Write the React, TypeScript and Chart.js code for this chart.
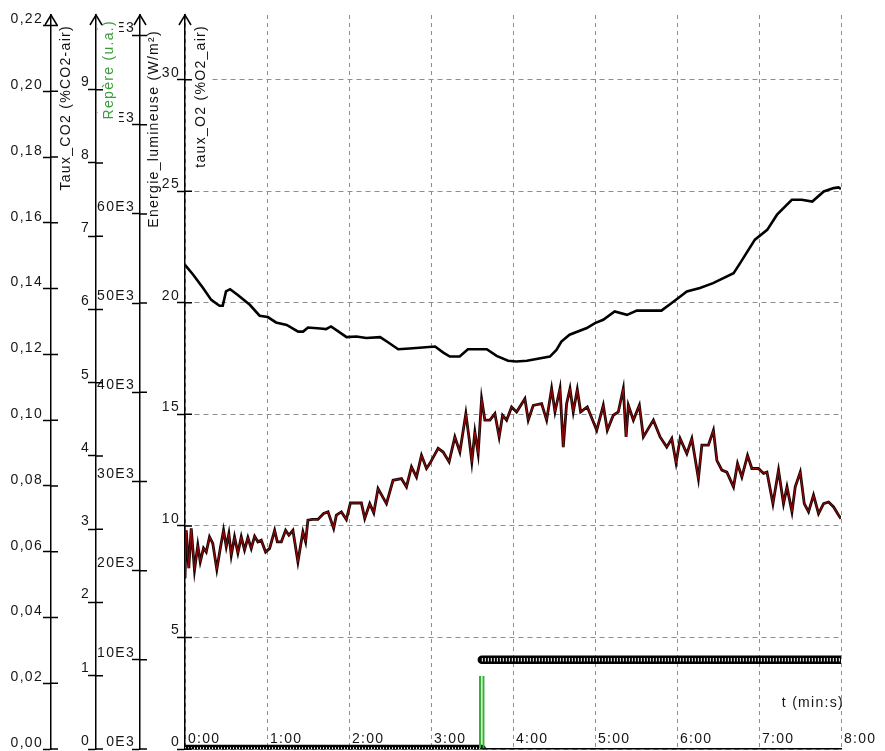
import React, { useEffect, useRef } from 'react';
import { Chart, registerables } from 'chart.js';

Chart.register(...registerables);

// ---- data (time in minutes) ----
const o2Times = [0, 0.10, 0.22, 0.32, 0.42, 0.46, 0.50, 0.55, 0.64, 0.79, 0.91, 1.01, 1.11, 1.24, 1.38, 1.44, 1.50, 1.65, 1.72, 1.78, 1.86, 1.97, 2.09, 2.21, 2.38, 2.48, 2.60, 2.74, 3.05, 3.15, 3.23, 3.35, 3.45, 3.68, 3.80, 3.94, 4.04, 4.17, 4.45, 4.53, 4.59, 4.69, 4.90, 5.00, 5.10, 5.24, 5.39, 5.51, 5.81, 5.96, 6.12, 6.28, 6.44, 6.69, 6.77, 6.95, 7.10, 7.22, 7.40, 7.52, 7.65, 7.79, 7.91, 7.97, 8.00];
const o2Values = [21.70, 21.26, 20.66, 20.13, 19.87, 19.87, 20.51, 20.61, 20.36, 19.91, 19.42, 19.36, 19.12, 19.01, 18.71, 18.71, 18.89, 18.85, 18.82, 18.94, 18.74, 18.46, 18.49, 18.42, 18.46, 18.22, 17.92, 17.95, 18.04, 17.77, 17.59, 17.59, 17.92, 17.92, 17.62, 17.40, 17.37, 17.40, 17.59, 17.89, 18.26, 18.57, 18.87, 19.09, 19.24, 19.61, 19.46, 19.65, 19.65, 20.06, 20.51, 20.66, 20.88, 21.33, 21.78, 22.83, 23.27, 23.95, 24.62, 24.62, 24.54, 24.99, 25.14, 25.17, 25.10];

const co2Times = [0, 0.015, 0.046, 0.076, 0.116, 0.156, 0.186, 0.226, 0.259, 0.299, 0.339, 0.388, 0.430, 0.470, 0.503, 0.535, 0.564, 0.604, 0.645, 0.686, 0.726, 0.767, 0.808, 0.849, 0.889, 0.930, 0.983, 1.032, 1.093, 1.126, 1.175, 1.227, 1.267, 1.316, 1.377, 1.407, 1.438, 1.471, 1.499, 1.553, 1.621, 1.691, 1.744, 1.813, 1.846, 1.907, 1.968, 2.017, 2.151, 2.192, 2.253, 2.302, 2.354, 2.457, 2.537, 2.640, 2.701, 2.762, 2.823, 2.884, 2.945, 2.985, 3.087, 3.148, 3.221, 3.291, 3.352, 3.425, 3.465, 3.498, 3.535, 3.575, 3.617, 3.657, 3.718, 3.779, 3.831, 3.873, 3.922, 3.983, 4.044, 4.145, 4.186, 4.247, 4.349, 4.410, 4.471, 4.512, 4.573, 4.613, 4.654, 4.695, 4.735, 4.784, 4.825, 4.906, 4.947, 5.021, 5.101, 5.150, 5.223, 5.284, 5.345, 5.379, 5.407, 5.468, 5.541, 5.590, 5.712, 5.794, 5.875, 5.936, 5.989, 6.038, 6.120, 6.181, 6.261, 6.303, 6.383, 6.444, 6.486, 6.547, 6.608, 6.689, 6.738, 6.791, 6.860, 6.913, 6.994, 7.055, 7.097, 7.170, 7.238, 7.299, 7.341, 7.402, 7.442, 7.503, 7.552, 7.604, 7.665, 7.726, 7.788, 7.849, 7.910, 7.971, 8.0];
const co2Values = [0.0519, 0.0665, 0.0550, 0.0671, 0.0544, 0.0620, 0.0569, 0.0611, 0.0599, 0.0645, 0.0625, 0.0546, 0.0610, 0.0665, 0.0615, 0.0655, 0.0589, 0.0645, 0.0596, 0.0645, 0.0605, 0.0643, 0.0610, 0.0647, 0.0630, 0.0635, 0.0599, 0.0610, 0.0665, 0.0630, 0.0630, 0.0665, 0.0650, 0.0665, 0.0569, 0.0615, 0.0660, 0.0630, 0.0696, 0.0698, 0.0698, 0.0716, 0.0721, 0.0671, 0.0711, 0.0721, 0.0698, 0.0748, 0.0748, 0.0701, 0.0746, 0.0718, 0.0792, 0.0746, 0.0817, 0.0822, 0.0797, 0.0858, 0.0827, 0.0893, 0.0853, 0.0868, 0.0914, 0.0903, 0.0873, 0.0949, 0.0903, 0.1020, 0.0944, 0.0873, 0.0964, 0.0898, 0.1065, 0.1000, 0.1000, 0.1020, 0.0949, 0.1015, 0.1000, 0.1040, 0.1025, 0.1065, 0.1000, 0.1045, 0.1050, 0.1000, 0.1096, 0.1025, 0.1096, 0.0918, 0.1050, 0.1096, 0.1025, 0.1093, 0.1025, 0.1040, 0.1015, 0.0969, 0.1045, 0.0969, 0.1015, 0.1025, 0.1096, 0.0949, 0.1045, 0.1000, 0.1045, 0.0949, 0.1000, 0.0949, 0.0918, 0.0944, 0.0870, 0.0944, 0.0898, 0.0944, 0.0822, 0.0924, 0.0924, 0.0969, 0.0878, 0.0848, 0.0842, 0.0797, 0.0868, 0.0827, 0.0893, 0.0853, 0.0853, 0.0838, 0.0842, 0.0746, 0.0848, 0.0746, 0.0797, 0.0721, 0.0797, 0.0842, 0.0746, 0.0721, 0.0772, 0.0716, 0.0746, 0.0751, 0.0736, 0.0711, 0.0700];

// light energy in E3 (×1000 W/m²): off, then on at the marker (null = not connected)
const lightTimes = [0, 3.62, 3.62, 3.62, 8.0];
const lightValues: (number | null)[] = [0, 0, null, 10, 10];

// "Repère" marker
const markerTimes = [3.62];
const markerValues = [1];

const AXIS_IDS = ['yCO2', 'yR', 'yE', 'yO2'];
const AXIS_TITLES = ['Taux_CO2 (%CO2-air)', 'Repère (u.a.)', 'Energie_lumineuse (W/m²)', 'taux_O2 (%O2_air)'];
const AXIS_TITLE_COLORS = ['#111111', '#3a9d3a', '#111111', '#111111'];
const X_TITLE = 't (min:s)';

const FONT = '"Liberation Sans", Arial, sans-serif';
const SPACING = '1.3px';
const TXT = '#161616';
const GRID = '#8e8e8e';

const pts = (xs: number[], ys: (number | null)[]) => xs.map((x, i) => ({ x, y: ys[i] }));

const zeroPad = (s: any) => {
  s.paddingLeft = 0;
  s.paddingRight = 0;
  s.paddingTop = 0;
  s.paddingBottom = 0;
};

const overlayPlugin = {
  id: 'overlay',
  beforeLayout(chart: any) {
    chart.ctx.letterSpacing = SPACING;
  },
  beforeDraw(chart: any) {
    chart.ctx.letterSpacing = SPACING;
  },
  afterDraw(chart: any) {
    const ctx = chart.ctx;
    const titleDx = [15, 13, 14, 16];
    const titleDy = [10, 5, 15, 10];
    const bg = [[-7, 7], [-11, 10], [-6, 8], [-8, 9]];
    const bgExtra = [4, 12, 4, 4];
    ctx.save();
    ctx.letterSpacing = SPACING;
    ctx.font = `14px ${FONT}`;
    AXIS_IDS.forEach((id, k) => {
      const s = chart.scales[id];
      const text = AXIS_TITLES[k];
      const w = ctx.measureText(text).width;
      const cx = s.right + titleDx[k];
      const top = s.top + titleDy[k];
      ctx.fillStyle = '#ffffff';
      ctx.fillRect(cx + bg[k][0], top - 3, bg[k][1] - bg[k][0], w + bgExtra[k]);
      ctx.save();
      ctx.translate(cx, top);
      ctx.rotate(-Math.PI / 2);
      ctx.fillStyle = AXIS_TITLE_COLORS[k];
      ctx.textAlign = 'right';
      ctx.textBaseline = 'middle';
      ctx.fillText(text, 0, 0);
      ctx.restore();
    });
    AXIS_IDS.forEach((id) => {
      const s = chart.scales[id];
      const x = s.right;
      ctx.strokeStyle = '#000';
      ctx.lineWidth = 1.5;
      ctx.beginPath();
      s.ticks.forEach((_t: any, i: number) => {
        const y = s.getPixelForTick(i);
        ctx.moveTo(x, y);
        ctx.lineTo(x + 7, y);
      });
      ctx.moveTo(x - 6, s.top + 10);
      ctx.lineTo(x, s.top);
      ctx.lineTo(x + 6, s.top + 10);
      ctx.stroke();
    });
    const area = chart.chartArea;
    ctx.fillStyle = TXT;
    ctx.textAlign = 'right';
    ctx.textBaseline = 'middle';
    ctx.fillText(X_TITLE, area.right + 3, area.bottom - 46);
    ctx.restore();
  },
};

const yScale = (weight: number, width: number, max: number, step: number, limit: number, pad: number, offset: number, fmt: (v: number) => string, chartGrid = false) => ({
  type: 'linear',
  position: 'left',
  weight,
  bounds: 'data',
  min: 0,
  max,
  offset: false,
  afterBuildTicks: (s: any) => {
    s.ticks = s.ticks.filter((t: any) => t.value <= limit);
  },
  afterFit: (s: any) => {
    s.width = width;
    zeroPad(s);
  },
  ticks: {
    stepSize: step,
    maxTicksLimit: 30,
    includeBounds: false,
    autoSkip: false,
    padding: pad,
    labelOffset: offset,
    color: TXT,
    font: { family: FONT, size: 14 },
    callback: (v: any) => fmt(Number(v)),
  },
  grid: {
    offset: false,
    drawOnChartArea: chartGrid,
    drawTicks: true,
    tickLength: 8,
    tickColor: '#000',
    tickWidth: 1.5,
    color: GRID,
    lineWidth: 1,
  },
  border: { display: true, color: '#000', width: 1.5, dash: chartGrid ? [5, 4] : undefined },
});

export default function App() {
  const canvasRef = useRef<HTMLCanvasElement | null>(null);

  useEffect(() => {
    if (!canvasRef.current) return;
    const chart = new Chart(canvasRef.current, {
      type: 'line',
      data: {
        datasets: [
          {
            type: 'bar',
            label: 'Repère',
            data: pts(markerTimes, markerValues),
            xAxisID: 'x',
            yAxisID: 'yR',
            backgroundColor: 'rgba(255,255,255,0)',
            borderColor: '#33b233',
            borderWidth: { left: 1.5, right: 1.5, top: 0, bottom: 0 },
            borderSkipped: false,
            barThickness: 5,
            order: 0,
          } as any,
          {
            label: 'Taux_CO2 core',
            data: pts(co2Times, co2Values),
            xAxisID: 'x',
            yAxisID: 'yCO2',
            borderColor: '#a00a0a',
            borderWidth: 1,
            pointRadius: 0,
            tension: 0,
            order: 1,
          },
          {
            label: 'Taux_CO2',
            data: pts(co2Times, co2Values),
            xAxisID: 'x',
            yAxisID: 'yCO2',
            borderColor: '#1c0202',
            borderWidth: 2.8,
            pointRadius: 0,
            tension: 0,
            order: 2,
          },
          {
            label: 'taux_O2',
            data: pts(o2Times, o2Values),
            xAxisID: 'x',
            yAxisID: 'yO2',
            borderColor: '#000',
            borderWidth: 2.6,
            pointRadius: 0,
            tension: 0,
            order: 3,
          },
          {
            label: 'Energie dash',
            data: pts(lightTimes, lightValues),
            xAxisID: 'x',
            yAxisID: 'yE',
            borderColor: '#ffffff',
            borderWidth: 3.5,
            borderDash: [1, 2],
            pointRadius: 0,
            spanGaps: false,
            order: 4,
          },
          {
            label: 'Energie_lumineuse',
            data: pts(lightTimes, lightValues),
            xAxisID: 'x',
            yAxisID: 'yE',
            borderColor: '#000',
            borderWidth: 8.5,
            borderCapStyle: 'round',
            pointRadius: 0,
            spanGaps: false,
            order: 5,
          },
        ] as any,
      },
      options: {
        animation: false,
        responsive: true,
        maintainAspectRatio: false,
        events: [],
        layout: { padding: { top: 15, right: 44, left: 0, bottom: 0 } },
        plugins: { legend: { display: false }, tooltip: { enabled: false } },
        scales: {
          x: {
            type: 'linear',
            position: 'bottom',
            min: 0,
            max: 8,
            offset: false,
            afterFit: (s: any) => {
              s.height = 2;
              zeroPad(s);
            },
            ticks: {
              stepSize: 1,
              maxTicksLimit: 30,
              autoSkip: false,
              maxRotation: 0,
              align: 'start',
              mirror: true,
              padding: 1,
              labelOffset: 3,
              color: TXT,
              font: { family: FONT, size: 14 },
              callback: (v: any) => `${v}:00`,
            },
            grid: { offset: false, drawOnChartArea: true, drawTicks: false, color: GRID, lineWidth: 1 },
            border: { display: true, color: '#000', width: 1.5, dash: [4, 4] },
          },
          yCO2: yScale(4, 51, 0.2232, 0.02, 0.2201, 0, -6, (v) => v.toFixed(2).replace('.', ',')),
          yR: yScale(3, 45, 10.02, 1, 9.01, -2, -8, (v) => `${Math.round(v)}`),
          yE: yScale(2, 44, 82.3, 10, 80.01, -3, -7, (v) => `${Math.round(v)}E3`),
          yO2: yScale(1, 45, 32.9, 5, 30.01, -3, -7, (v) => `${Math.round(v)}`, true),
        } as any,
      },
      plugins: [overlayPlugin],
    });
    return () => chart.destroy();
  }, []);

  return (
    <div style={{ position: 'fixed', left: 0, top: 0, width: 885, height: 751, background: '#ffffff' }}>
      <canvas ref={canvasRef} />
    </div>
  );
}
